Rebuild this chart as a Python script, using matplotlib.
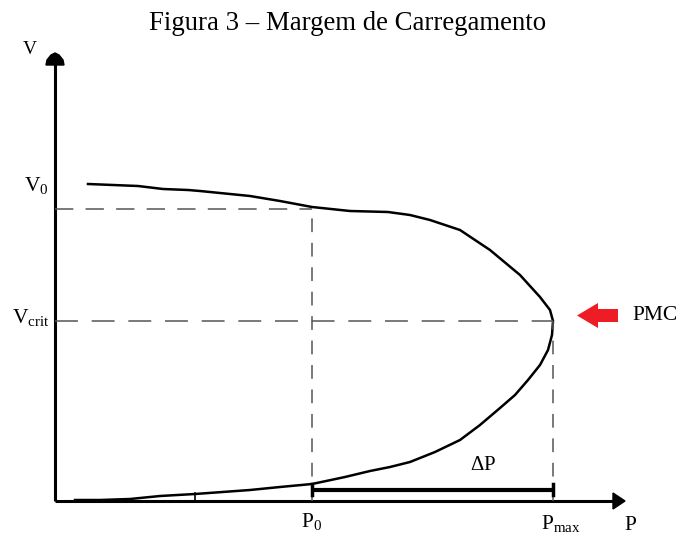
import matplotlib.pyplot as plt

plt.rcParams['font.family'] = ['Liberation Serif', 'DejaVu Serif']
plt.rcParams['mathtext.fontset'] = 'custom'
plt.rcParams['mathtext.rm'] = 'Liberation Serif'

# PV curve (nose curve), P to the right, V up
p_curve = [33, 58, 83, 108, 133, 145, 195, 225, 257, 295, 333, 355, 375, 405, 435, 465,
           485, 495, 498, 497, 493, 485, 473, 460, 445, 425, 405, 380, 355, 335, 315,
           290, 257, 225, 195, 140, 105, 75, 45, 20]
v_curve = [317, 316, 315, 312, 311, 310, 305, 300, 294, 290, 289, 286, 281, 271, 251, 226,
           204, 191, 180, 166, 151, 136, 121, 106, 93, 76, 61, 49, 39, 34, 30,
           24, 17, 14, 11, 7, 5, 2, 1, 1]

p0, pmax = 257, 498
v0, vcrit = 292, 180
p_tick = 140
dp_level = 11

fig = plt.figure(figsize=(6.77, 5.36), dpi=100)
ax = fig.add_axes([0, 0, 1, 1])
ax.set_xlim(-55, 622)
ax.set_ylim(-35, 501)
ax.axis('off')

# axes with arrow heads
ax.plot([0, 560], [0, 0], color='black', lw=2.2, solid_capstyle='butt')
ax.plot([0, 0], [0, 438], color='black', lw=2.2, solid_capstyle='butt')
ax.fill([558, 558, 570], [8, -8, 0], color='black')
ax.fill([-9, 9, 8, 4, 0, -4, -8], [436, 436, 441, 446, 448, 446, 441], color='black')
ax.plot([p_tick, p_tick], [0, 8], color='black', lw=1.2)

# curve
ax.plot(p_curve, v_curve, color='black', lw=1.8)

# dashed guides
dash = dict(color='#555555', lw=1.1, dashes=(12, 8))
ax.plot([0, p0], [v0, v0], **dash)
ax.plot([0, pmax], [vcrit, vcrit], **dict(dash, dashes=(15, 9)))
ax.plot([p0, p0], [0, v0], **dict(dash, dashes=(9, 7)))
ax.plot([pmax, pmax], [0, vcrit], **dict(dash, dashes=(9, 7)))

# delta P bar
ax.plot([p0, pmax], [dp_level, dp_level], color='black', lw=3, solid_capstyle='butt')
ax.plot([p0, p0], [dp_level - 5, dp_level + 6], color='black', lw=2.5)
ax.plot([pmax, pmax], [dp_level - 5, dp_level + 6], color='black', lw=2.5)
ax.text(428, 35, r'$\mathrm{\Delta P}$', fontsize=15, ha='center', va='center')

# PMC arrow
ax.arrow(563, 185.5, -41, 0, width=13, head_width=25, head_length=21,
         length_includes_head=True, color='#ee1c25', lw=0)
ax.text(577, 186, 'PMC', fontsize=15.5, ha='left', va='center')

# labels
ax.text(-25, 451, 'V', fontsize=14, ha='center', va='center')
ax.text(-19, 316, r'$\mathrm{V_0}$', fontsize=15.5, ha='center', va='center')
ax.text(-24, 183, r'$\mathrm{V_{crit}}$', fontsize=15.5, ha='center', va='center')
ax.text(p0, -20, r'$\mathrm{P_0}$', fontsize=15.5, ha='center', va='center')
ax.text(506, -22, r'$\mathrm{P_{max}}$', fontsize=15.5, ha='center', va='center')
ax.text(575, -24, 'P', fontsize=15.5, ha='center', va='center')

fig.text(0.513, 1 - 24 / 536, 'Figura 3 \u2013 Margem de Carregamento', fontsize=19.3,
         ha='center', va='center')

fig.savefig('out.png', dpi=100)
